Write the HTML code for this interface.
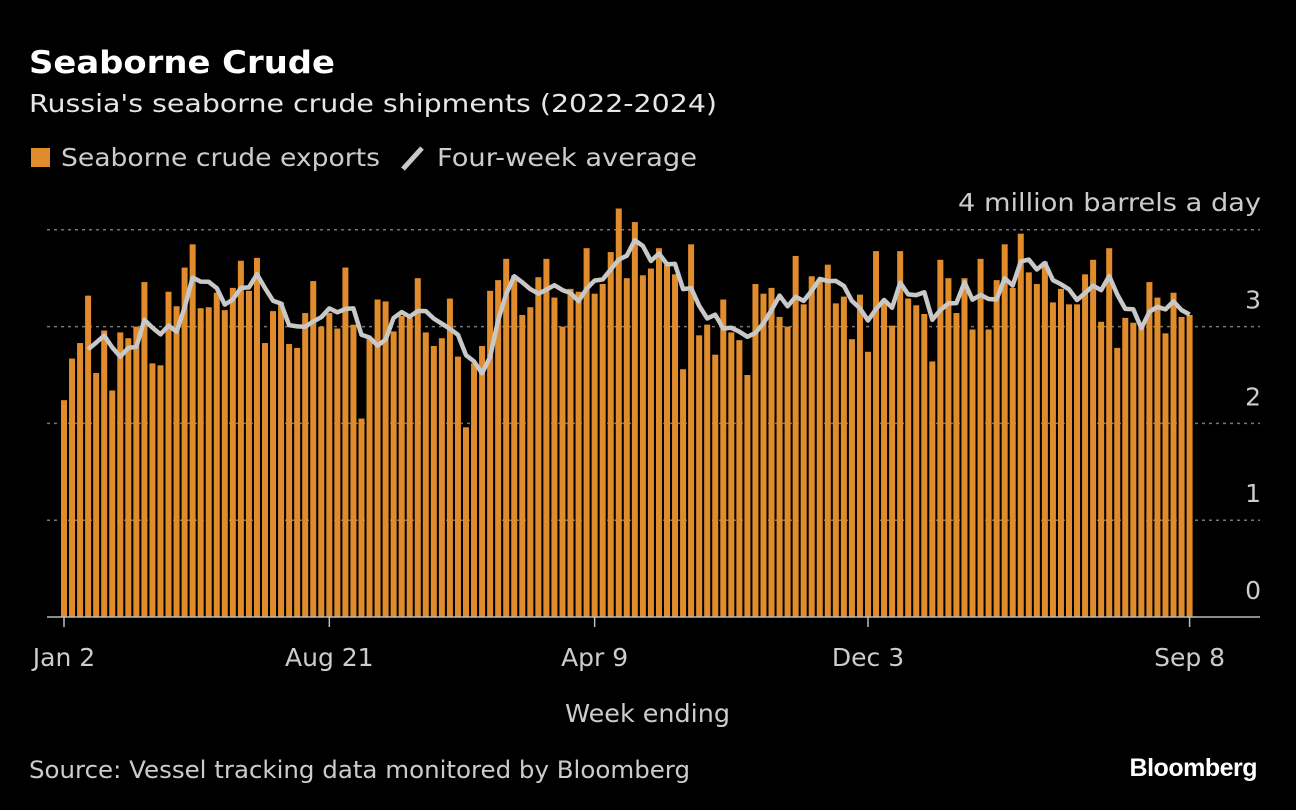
<!DOCTYPE html>
<html><head><meta charset="utf-8"><style>
body{margin:0;background:#000;width:1296px;height:810px;overflow:hidden;font-family:"DejaVu Sans","Liberation Sans",sans-serif;color:#ddd}
svg{position:absolute;left:0;top:0}
svg text{font-family:"DejaVu Sans","Liberation Sans",sans-serif}
</style></head><body>
<svg width="1296" height="810">
<text x="29" y="73" font-size="31" font-weight="bold" fill="#fff" textLength="306" lengthAdjust="spacingAndGlyphs">Seaborne Crude</text>
<text x="29" y="112" font-size="25" fill="#e6e6e6" textLength="688" lengthAdjust="spacingAndGlyphs">Russia's seaborne crude shipments (2022-2024)</text>
<g>
<rect x="31" y="148" width="19" height="19" fill="#e08c2c"/>
<text x="61" y="166" font-size="25" fill="#ccc" textLength="319" lengthAdjust="spacingAndGlyphs">Seaborne crude exports</text>
<line x1="403" y1="169" x2="422" y2="148" stroke="#c8c8c8" stroke-width="5"/>
<text x="437" y="166" font-size="25" fill="#ccc" textLength="260" lengthAdjust="spacingAndGlyphs">Four-week average</text>
</g>
<text x="958" y="211" font-size="25" fill="#ccc" textLength="303" lengthAdjust="spacingAndGlyphs">4 million barrels a day</text>
<g id="grid"></g><g id="bars"></g><g id="line"></g><g id="xaxis"></g>
<text x="565" y="722" font-size="25" fill="#ccc" textLength="165" lengthAdjust="spacingAndGlyphs">Week ending</text>
<text x="29" y="778" font-size="24" fill="#ccc" textLength="661" lengthAdjust="spacingAndGlyphs">Source: Vessel tracking data monitored by Bloomberg</text>
<text x="1257" y="776" font-size="25" font-weight="bold" fill="#fff" text-anchor="end" letter-spacing="-0.5" style="font-family:'Liberation Sans',sans-serif">Bloomberg</text>
</svg>
<script>
const exportsValues=[2.24,2.67,2.83,3.32,2.52,2.96,2.34,2.94,2.88,3.0,3.46,2.62,2.60,3.36,3.21,3.61,3.85,3.19,3.20,3.35,3.17,3.40,3.68,3.37,3.71,2.83,3.16,3.25,2.82,2.78,3.14,3.47,3.0,3.14,2.98,3.61,3.02,2.05,2.87,3.28,3.26,2.95,3.11,3.09,3.50,2.94,2.80,2.88,3.29,2.69,1.96,2.62,2.80,3.37,3.48,3.70,3.53,3.12,3.20,3.51,3.70,3.30,3.0,3.39,3.36,3.81,3.34,3.44,3.77,4.22,3.50,4.08,3.53,3.60,3.81,3.64,3.54,2.56,3.85,2.91,3.02,2.71,3.28,2.94,2.86,2.50,3.44,3.34,3.40,3.10,3.0,3.73,3.23,3.52,3.49,3.64,3.24,3.31,2.87,3.33,2.74,3.78,3.25,3.01,3.78,3.29,3.22,3.13,2.64,3.69,3.50,3.14,3.50,2.97,3.70,2.97,3.48,3.85,3.40,3.96,3.56,3.44,3.67,3.25,3.39,3.23,3.23,3.54,3.69,3.05,3.81,2.78,3.09,3.04,3.02,3.46,3.30,2.93,3.35,3.10,3.12];
const yTicks=[0,1,2,3,4];
const xTickLabels=["Jan 2","Aug 21","Apr 9","Dec 3","Sep 8"];
const xTickIndex=[0,33,66,100,140];
const NS="http://www.w3.org/2000/svg";
const X0=64,X1=1189.6,Y0=617,PX=96.8;
const n=exportsValues.length;
const xs=i=>X0+(X1-X0)*i/(n-1);
const ys=v=>Y0-v*PX;
function mk(tag,attrs,parent){const e=document.createElementNS(NS,tag);for(const k in attrs)e.setAttribute(k,attrs[k]);document.getElementById(parent).appendChild(e);return e;}
yTicks.forEach(t=>{
  if(t>0){const g=mk('line',{x1:47,x2:1260,y1:ys(t),y2:ys(t),stroke:'#777','stroke-width':1.5,'stroke-dasharray':'3,4'},'grid');
  
  }
  if(t<4){const l=mk('text',{x:1261,y:ys(t)-18,'font-size':25,fill:'#ccc','text-anchor':'end'},'grid');l.textContent=t;
  
  }
});
exportsValues.forEach((v,i)=>{
  const r=mk('rect',{x:xs(i)-3,y:ys(v),width:6,height:v*PX,fill:'#e08c2c'},'bars');
  
  
});
const pts=[];
for(let i=3;i<n;i++){const a=(exportsValues[i]+exportsValues[i-1]+exportsValues[i-2]+exportsValues[i-3])/4;pts.push(xs(i).toFixed(1)+','+ys(a).toFixed(1));}
const pl=mk('polyline',{points:pts.join(' '),fill:'none',stroke:'#c8c8c8','stroke-width':4.5,'stroke-linejoin':'round'},'line');


const base=mk('line',{x1:47,x2:1260,y1:Y0,y2:Y0,stroke:'#bbb','stroke-width':1.5},'xaxis');


xTickLabels.forEach((lab,k)=>{
  const x=xs(xTickIndex[k]);
  const tk=mk('line',{x1:x,x2:x,y1:Y0,y2:627,stroke:'#bbb','stroke-width':1.5},'xaxis');
  
  
  const t=mk('text',{x:x,y:666,'font-size':25,fill:'#ccc','text-anchor':'middle'},'xaxis');t.textContent=lab;
  
  
});
</script>
</body></html>
